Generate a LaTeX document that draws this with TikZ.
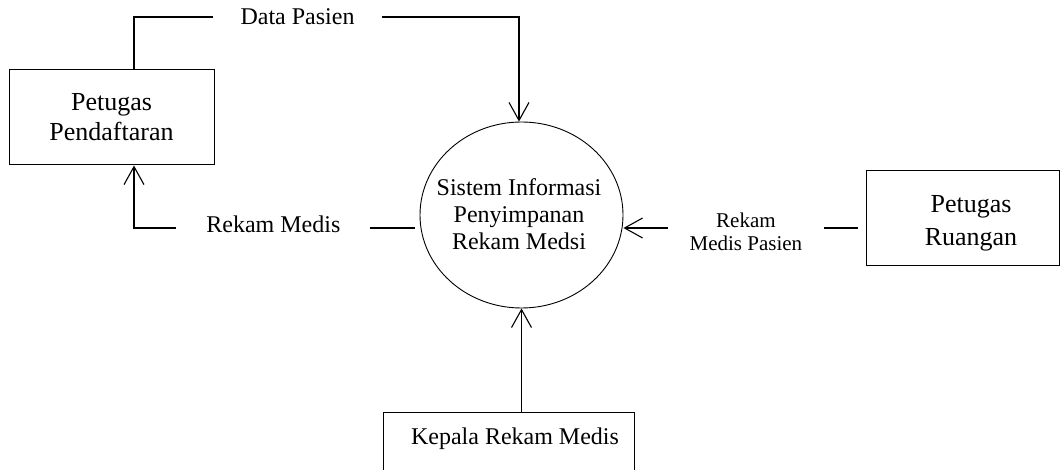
\documentclass[tikz,border=0pt]{standalone}
\usepackage{fontspec}
\setmainfont{Liberation Serif}
\usetikzlibrary{arrows.meta,shapes.geometric}
\begin{document}
\begin{tikzpicture}[x=1pt,y=-1pt,
  box/.style={draw, line width=1pt, inner sep=0pt},
  procbox/.style={ellipse, draw, line width=0.9pt, inner sep=0pt, minimum width=203pt, minimum height=186pt},
  bigtxt/.style={font=\fontsize{26}{30}\selectfont, align=center, inner sep=0pt},
  midtxt/.style={font=\fontsize{24}{27}\selectfont, align=center, inner sep=0pt},
  flow/.style={draw, line width=1.1pt},
  flowarrow/.style={flow, -{Straight Barb[length=18pt,width=20pt]}},
  lbl/.style={fill=white, font=\fontsize{24}{27}\selectfont, inner ysep=2pt},
  smalllbl/.style={fill=white, font=\fontsize{21}{23}\selectfont, align=center, inner ysep=2pt}
]
\useasboundingbox (0,0) rectangle (1060,470);
\clip (0,0) rectangle (1060,470);

% entities and process
\node[box, bigtxt, minimum width=205pt, minimum height=95pt] (pp) at (111.5,117.5) {Petugas\\Pendaftaran};
\node[procbox] (circ) at (521.5,215) {};
\node[midtxt] (circt) at (519,214) {Sistem Informasi\\Penyimpanan\\Rekam Medsi};
\node[box, minimum width=193pt, minimum height=95pt] (pr) at (962.5,218.5) {};
\node[font=\fontsize{26}{33}\selectfont, align=center, inner sep=0pt] (prt) at (971,223) {Petugas\\Ruangan};
\node[box, minimum width=251pt, minimum height=90pt, anchor=north] (kr) at (508.5,412) {};
\node[midtxt] (krt) at (515,439) {Kepala Rekam Medis};

% Data Pasien
\coordinate (dpa) at (134,17);
\coordinate (dpb) at (519,17);
\draw[flowarrow] (pp.north -| dpa) -- (dpa) -- node[lbl, pos=0.4247, inner xsep=28pt] {Data Pasien} (dpb) -- (dpb |- circ.north);

% Rekam Medis
\coordinate (rma) at (134,228);
\draw[flowarrow, shorten <=5pt] (rma -| circ.west) -- node[lbl, pos=0.512, inner xsep=30pt, yshift=4pt] {Rekam Medis} (rma) -- (rma |- pp.south);

% Rekam Medis Pasien
\coordinate (rpa) at (866,228);
\draw[flowarrow, shorten <=8pt] (pr.west |- rpa) -- node[smalllbl, pos=0.494, inner xsep=22pt, yshift=-4pt] {Rekam\\Medis Pasien} (rpa -| circ.east);

% Kepala Rekam Medis
\draw[flowarrow] (kr.north -| circ.south) -- (circ.south);
\end{tikzpicture}
\end{document}
